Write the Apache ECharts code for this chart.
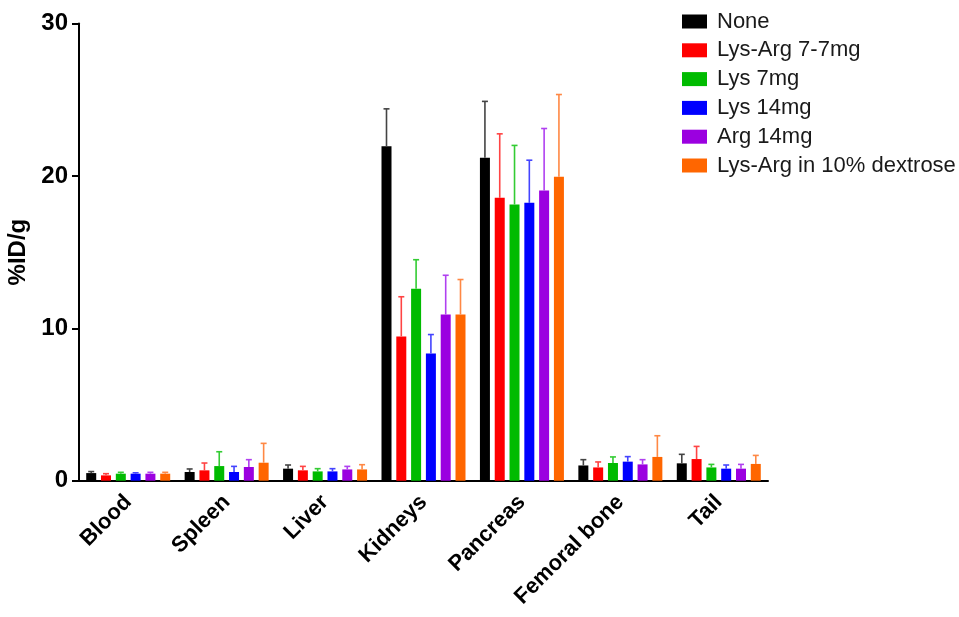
<!DOCTYPE html>
<html>
<head>
<meta charset="utf-8">
<script src="https://cdn.jsdelivr.net/npm/echarts@6/dist/echarts.min.js"></script>
<style>html,body{margin:0;padding:0;background:#fff}#c{width:959px;height:617px}</style>
</head>
<body>
<div id="c"></div>
<script>
var categories = ['Blood', 'Spleen', 'Liver', 'Kidneys', 'Pancreas', 'Femoral bone', 'Tail'];
var seriesNames = ['None', 'Lys-Arg 7-7mg', 'Lys 7mg', 'Lys 14mg', 'Arg 14mg', 'Lys-Arg in 10% dextrose'];

var noneVals      = [0.50, 0.57, 0.79, 21.95, 21.19, 1.00, 1.14];
var noneErr       = [0.10, 0.20, 0.24, 2.45, 3.70, 0.38, 0.59];
var lysArg77Vals  = [0.35, 0.68, 0.68, 9.47, 18.56, 0.87, 1.42];
var lysArg77Err   = [0.11, 0.48, 0.26, 2.60, 4.20, 0.36, 0.83];
var lys7Vals      = [0.46, 0.96, 0.61, 12.60, 18.12, 1.16, 0.87];
var lys7Err       = [0.09, 0.94, 0.18, 1.90, 3.88, 0.40, 0.20];
var lys14Vals     = [0.46, 0.57, 0.61, 8.34, 18.23, 1.25, 0.79];
var lys14Err      = [0.06, 0.37, 0.18, 1.25, 2.80, 0.33, 0.24];
var arg14Vals     = [0.46, 0.90, 0.74, 10.90, 19.04, 1.07, 0.79];
var arg14Err      = [0.09, 0.48, 0.20, 2.58, 4.07, 0.31, 0.28];
var lysArgDexVals = [0.46, 1.18, 0.74, 10.90, 19.94, 1.56, 1.10];
var lysArgDexErr  = [0.09, 1.27, 0.31, 2.30, 5.40, 1.39, 0.56];

var yTicks = [0, 10, 20, 30];

var allVals = [noneVals, lysArg77Vals, lys7Vals, lys14Vals, arg14Vals, lysArgDexVals];
var allErr = [noneErr, lysArg77Err, lys7Err, lys14Err, arg14Err, lysArgDexErr];
var colors = ['#000000', '#ff0000', '#00bb00', '#0000ff', '#9b00e0', '#ff6600'];
var errColors = ['#444444', '#ff4444', '#33cc33', '#4444ff', '#b040f0', '#ff8844'];

var BAR_W = 10, BAR_STEP = 14.8;

var series = [];
allVals.forEach(function (vals, i) {
  series.push({
    name: seriesNames[i],
    type: 'bar',
    data: vals,
    barWidth: BAR_W,
    barGap: ((BAR_STEP - BAR_W) / BAR_W * 100) + '%',
    itemStyle: { color: colors[i] },
    z: 2
  });
});
allVals.forEach(function (vals, i) {
  series.push({
    name: seriesNames[i] + ' err',
    type: 'custom',
    data: vals.map(function (v, k) { return [k, v, v + allErr[i][k]]; }),
    encode: { x: 0, y: [1, 2] },
    z: 3,
    silent: true,
    renderItem: function (params, api) {
      var k = api.value(0);
      var lo = api.coord([k, api.value(1)]);
      var hi = api.coord([k, api.value(2)]);
      var x = lo[0] + (i - 2.5) * BAR_STEP;
      var st = { stroke: errColors[i], lineWidth: 1.6 };
      return {
        type: 'group',
        children: [
          { type: 'line', shape: { x1: x, y1: lo[1], x2: x, y2: hi[1] }, style: st },
          { type: 'line', shape: { x1: x - 3, y1: hi[1], x2: x + 3, y2: hi[1] }, style: st }
        ]
      };
    }
  });
});

var chart = echarts.init(document.getElementById('c'), null, { renderer: 'canvas' });
chart.setOption({
  animation: false,
  backgroundColor: '#ffffff',
  textStyle: { fontFamily: 'Liberation Sans, Arial, sans-serif' },
  grid: { left: 79, top: 23.5, right: 191, bottom: 136.3, outerBoundsMode: 'none', containLabel: false },
  legend: {
    data: seriesNames,
    orient: 'vertical',
    left: 677,
    top: 5.5,
    itemWidth: 25,
    itemHeight: 14,
    itemGap: 6.8,
    icon: 'rect',
    textStyle: { fontSize: 22, color: '#1a1a1a', padding: [0, 0, 0, 5], fontFamily: 'Liberation Sans, Arial, sans-serif' }
  },
  xAxis: {
    type: 'category',
    data: categories,
    boundaryGap: true,
    axisLine: { lineStyle: { color: '#000', width: 2 } },
    axisTick: { alignWithLabel: true, length: 6, lineStyle: { color: '#000', width: 2 } },
    axisLabel: { rotate: 45, fontSize: 22, fontWeight: 'bold', color: '#000', margin: 18, interval: 0 }
  },
  yAxis: {
    type: 'value',
    min: yTicks[0],
    max: yTicks[yTicks.length - 1],
    interval: yTicks[1] - yTicks[0],
    name: '%ID/g',
    nameLocation: 'middle',
    nameGap: 44,
    nameTextStyle: { fontSize: 24, fontWeight: 'bold', color: '#000' },
    axisLine: { show: true, lineStyle: { color: '#000', width: 2 } },
    axisTick: { show: true, length: 7, lineStyle: { color: '#000', width: 2 } },
    axisLabel: { fontSize: 24, fontWeight: 'bold', color: '#000', margin: 11 },
    splitLine: { show: false }
  },
  series: series
});
</script>
</body>
</html>
